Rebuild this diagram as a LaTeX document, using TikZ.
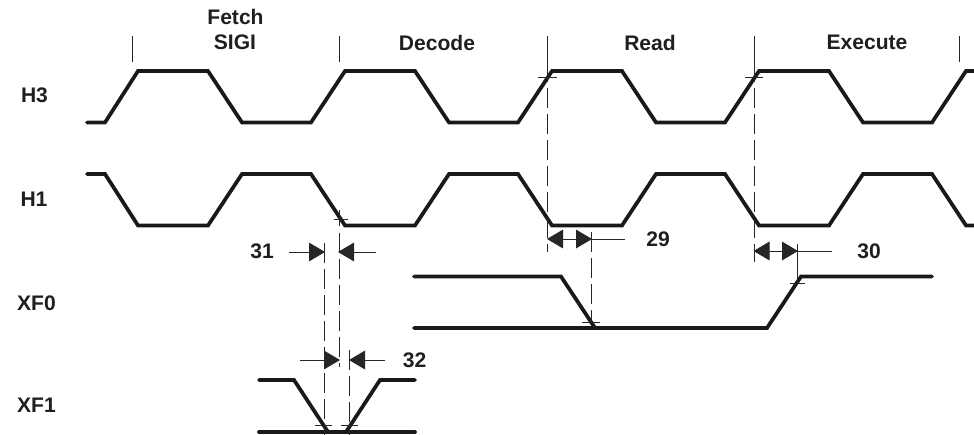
\documentclass[tikz,border=0pt]{standalone}
\usepackage{fontspec}
\setmainfont{Liberation Sans}
\usetikzlibrary{arrows.meta}
\tikzset{
 x=0.75pt,y=-0.75pt,
 sig/.style={line width=2.8pt,line join=miter,line cap=round,draw=black!90},
 guide/.style={line width=0.65pt,draw=black!85},
 dashline/.style={guide,dash pattern=on 15pt off 4.5pt},
 dim/.style={guide,-{Triangle[length=12pt,width=14pt]},shorten >=0pt},
 lab/.style={font=\bfseries\fontsize{15.8}{18}\selectfont,text=black!88,inner sep=0pt,anchor=center},
}
\begin{document}
\begin{tikzpicture}
\useasboundingbox (0,0) rectangle (974,435);
% labels
\node[lab] (lfetch) at (235.5,17.3) {Fetch};
\node[lab] (lsigi) at (235,42.3) {SIGI};
\node[lab] (ldecode) at (437,42.5) {Decode};
\node[lab] (lread) at (650,42.5) {Read};
\node[lab] (lexec) at (867,42.5) {Execute};
\node[lab] (lh3) at (34.5,95.5) {H3};
\node[lab] (lh1) at (34,199.5) {H1};
\node[lab] (lxf0) at (36.5,303.5) {XF0};
\node[lab] (lxf1) at (36.5,405.5) {XF1};
\node[lab] (n31) at (262,251.5) {31};
\node[lab] (n32) at (414.5,360) {32};
\node[lab] (n29) at (658,239) {29};
\node[lab] (n30) at (869,251) {30};
% top ticks
\foreach \x in {132,339,547.5,754,959} \draw[guide] (\x,36) -- (\x,62);
% signals
\draw[sig] (87,122.5) -- (105,122.5) -- (138,71) -- (208,71) -- (242,122.5) -- (311,122.5) -- (345,71) -- (415,71) -- (449,122.5) -- (518,122.5) -- (552,71) -- (622,71) -- (656,122.5) -- (725,122.5) -- (759,71) -- (829,71) -- (863,122.5) -- (932,122.5) -- (966,71) -- (974,71);
\draw[sig] (87,174) -- (105,174) -- (138,225.5) -- (208,225.5) -- (242,174) -- (311,174) -- (345,225.5) -- (415,225.5) -- (449,174) -- (518,174) -- (552,225.5) -- (622,225.5) -- (656,174) -- (725,174) -- (759,225.5) -- (829,225.5) -- (863,174) -- (932,174) -- (966,225.5) -- (974,225.5);
\draw[sig] (414,276.5) -- (561,276.5) -- (595,328);
\draw[sig] (414,328) -- (767,328) -- (801,276.5) -- (932,276.5);
\draw[sig] (259,380) -- (294,380) -- (328,432);
\draw[sig] (259,432) -- (415,432);
\draw[sig] (346,432) -- (380,380) -- (415,380);
% dashed guides
\draw[dashline] (547.5,62) -- (547.5,252);
\draw[dashline] (754,62) -- (754,262);
\draw[dashline] (591,232) -- (591,322);
\draw[guide] (797.5,244) -- (797.5,283);
\draw[dashline] (324,243) -- (324,435);
\draw[dashline] (339,233) -- (339,367);
\draw[dashline] (349.5,350) -- (349.5,435);
\draw[guide] (339,210) -- (339,226);
% cross ticks
\draw[guide] (538,77) -- (557,77);
\draw[guide] (745,77) -- (763,77);
\draw[guide] (334,219) -- (348,219);
\draw[guide] (582,322) -- (600,322);
\draw[guide] (790,283) -- (805,283);
\draw[guide] (315,425.5) -- (332,425.5);
\draw[guide] (341,425.5) -- (358,425.5);
% dimension arrows
\draw[dim] (289,252) -- (325,252);
\draw[dim] (376,252) -- (338,252);
\draw[dim] (300,360) -- (340,360);
\draw[dim] (385,360) -- (349,360);
\coordinate (a29) at (570,239);
\draw[dim] (a29) -- (547,239);
\draw[dim] (a29) -- (592,239);
\draw[guide] (591,239) -- (625,239);
\coordinate (a30) at (776,251);
\draw[dim] (a30) -- (753.5,251);
\draw[dim] (a30) -- (798,251);
\draw[guide] (797.5,251) -- (832,251);
\end{tikzpicture}
\end{document}
